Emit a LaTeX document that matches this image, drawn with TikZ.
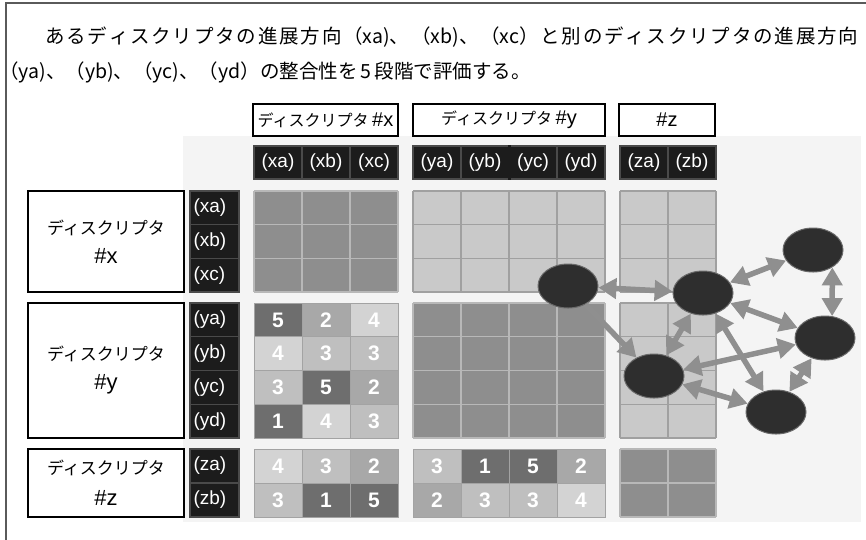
\documentclass[tikz,border=0pt]{standalone}
\usepackage{fontspec}
\setmainfont{Liberation Sans}
\newfontfamily\jp{Noto Sans CJK JP}
\usetikzlibrary{shapes.geometric,arrows.meta}
\definecolor{panel}{HTML}{F4F4F4}
\definecolor{framec}{HTML}{5A5A5A}
\definecolor{dkfill}{HTML}{8E8E8E}
\definecolor{dkline}{HTML}{B8B8B8}
\definecolor{ltfill}{HTML}{C9C9C9}
\definecolor{ltline}{HTML}{A0A0A0}
\definecolor{v1}{HTML}{6E6E6E}
\definecolor{v5}{HTML}{6E6E6E}
\definecolor{v2}{HTML}{A8A8A8}
\definecolor{v3}{HTML}{BFBFBF}
\definecolor{v4}{HTML}{D3D3D3}
\definecolor{valline}{HTML}{A3A3A3}
\definecolor{hdrfill}{HTML}{1C1C1C}
\definecolor{hdrline}{HTML}{4A4A4A}
\definecolor{nodefill}{HTML}{2E2E2E}
\definecolor{nodeline}{HTML}{6A6A6A}
\definecolor{arrowc}{HTML}{8F8F8F}
\newcommand\latn[2]{{\normalfont\fontsize{#1}{#1}\selectfont #2}}
\newcommand\cellgrid[7]{%
  \fill[#6] (#1,#2) rectangle ({#1+48*#3},{#2+#4*#5});
  \foreach \i in {0,...,#3}{\draw[#7,line width=1.3pt] ({#1+48*\i},#2) -- ({#1+48*\i},{#2+#4*#5});}
  \foreach \j in {0,...,#4}{\draw[#7,line width=1.3pt] (#1,{#2+#5*\j}) -- ({#1+48*#3},{#2+#5*\j});}
}
\newcommand\valrow[5]{% x0, ycenter, rowh, list, name prefix
  \foreach \v [count=\i from 0] in {#4} {\node[valc=\v, minimum height=#3] (#5-\i) at ({#1+24+48*\i},#2) {\v};}
}
\tikzset{
  valc/.style={fill=v#1, draw=valline, line width=1pt, minimum width=48pt, text=white,
    font=\bfseries\fontsize{21}{21}\selectfont, inner sep=0pt},
  hdr/.style={fill=hdrfill, draw=hdrline, line width=1.2pt, text=white,
    font=\fontsize{19}{19}\selectfont, inner sep=0pt},
  rowlab/.style={hdr, text width=42pt, inner xsep=3.5pt, align=left},
  hbox/.style={fill=white, draw=black, line width=1.2pt, inner sep=0pt,
    font=\jp\fontsize{16}{20}\selectfont},
  lbox/.style={fill=white, draw=black, line width=1.2pt, inner sep=0pt, minimum width=156pt,
    align=center, font=\jp\fontsize{17}{29}\selectfont},
  gnode/.style={ellipse, fill=nodefill, draw=nodeline, line width=1pt, minimum width=60pt,
    minimum height=44pt, inner sep=0pt},
  dbl/.style={{Triangle[length=18pt,width=20pt]}-{Triangle[length=18pt,width=20pt]},
    line width=5.5pt, draw=arrowc},
  sgl/.style={-{Triangle[length=18pt,width=20pt]}, line width=5.5pt, draw=arrowc},
}
\begin{document}
\begin{tikzpicture}[x=1pt,y=-1pt]
\useasboundingbox (0,0) rectangle (866,539);
\fill[white] (0,0) rectangle (866,539);
\draw[framec, line width=2pt] (6,545) -- (6,3) -- (870,3);
\fill[panel] (183,136) rectangle (861,522);

% intro text
\node[anchor=north west, text width=859pt, align=justify, inner sep=0pt,
  font=\jp\fontsize{19.5}{35}\selectfont] (intro) at (-1,27)
  {\XeTeXlinebreaklocale "ja"\XeTeXlinebreakskip=0pt plus 3pt\relax
   \hspace*{46pt}あるディスクリプタの進展方向（xa)、（xb)、（xc）と別のディスクリプタの進展方向\linebreak
   （ya)、（yb)、（yc)、（yd）の整合性を\,5\,段階で評価する。};

% header boxes
\node[hbox, minimum width=145pt, minimum height=32pt] (hx) at (325.5,120) {ディスクリプタ \latn{20}{\#x}};
\node[hbox, minimum width=192pt, minimum height=32pt] (hy) at (509,120) {ディスクリプタ \latn{20}{\#y}};
\node[hbox, minimum width=96pt, minimum height=32pt] (hz) at (667,120) {\latn{20}{\#z}};

% column headers
\foreach \t [count=\i from 0] in {xa,xb,xc}
  {\node[hdr, minimum width=48pt, minimum height=33pt] (c\t) at ({278+48*\i},162.5) {(\t)};}
\foreach \t [count=\i from 0] in {ya,yb,yc,yd}
  {\node[hdr, minimum width=48pt, minimum height=33pt] (c\t) at ({437+48*\i},162.5) {(\t)};}
\foreach \t [count=\i from 0] in {za,zb}
  {\node[hdr, minimum width=48pt, minimum height=33pt] (c\t) at ({644+48*\i},162.5) {(\t)};}
\draw[hdrfill, line width=2.4pt] (cyb.north east) -- (cyb.south east);

% row labels
\foreach \t [count=\i from 0] in {xa,xb,xc}
  {\node[rowlab, minimum height=33.67pt] (r\t) at (214.5,{207.83+33.67*\i}) {(\t)};}
\foreach \t [count=\i from 0] in {ya,yb,yc,yd}
  {\node[rowlab, minimum height=33.75pt] (r\t) at (214.5,{319.875+33.75*\i}) {(\t)};}
\foreach \t [count=\i from 0] in {za,zb}
  {\node[rowlab, minimum height=34pt] (r\t) at (214.5,{466+34*\i}) {(\t)};}

% left boxes
\node[lbox, minimum height=101pt] (lx) at (106,241.5) {ディスクリプタ\\\latn{22}{\#x}};
\node[lbox, minimum height=135pt] (ly) at (106,370.5) {ディスクリプタ\\\latn{22}{\#y}};
\node[lbox, minimum height=68pt, font=\jp\fontsize{17}{31}\selectfont] (lz) at (106,483) {ディスクリプタ\\\latn{22}{\#z}};

% blocks, rows x
\cellgrid{254}{191}{3}{3}{33.67}{dkfill}{dkline}
\cellgrid{413}{191}{4}{3}{33.67}{ltfill}{ltline}
\cellgrid{620}{191}{2}{3}{33.67}{ltfill}{ltline}
% rows y
\valrow{254}{319.875}{33.75pt}{5,2,4}{yxa}
\valrow{254}{353.625}{33.75pt}{4,3,3}{yxb}
\valrow{254}{387.375}{33.75pt}{3,5,2}{yxc}
\valrow{254}{421.125}{33.75pt}{1,4,3}{yxd}
\cellgrid{413}{303}{4}{4}{33.75}{dkfill}{dkline}
\cellgrid{620}{303}{2}{4}{33.75}{ltfill}{ltline}
% rows z
\valrow{254}{466}{34pt}{4,3,2}{zxa}
\valrow{254}{500}{34pt}{3,1,5}{zxb}
\valrow{413}{466}{34pt}{3,1,5,2}{zya}
\valrow{413}{500}{34pt}{2,3,3,4}{zyb}
\cellgrid{620}{449}{2}{2}{34}{dkfill}{dkline}

% graph
\node[gnode] (n1) at (568,286) {};
\node[gnode] (n2) at (703,293) {};
\node[gnode] (n3) at (813,250) {};
\node[gnode] (n4) at (825,338) {};
\node[gnode] (n5) at (654,376) {};
\node[gnode] (n6) at (776,412) {};

\draw[dbl] (n1) -- (n2);
\draw[dbl] (n2) -- (n3);
\draw[dbl] (n3.-42) -- (n4.72);
\draw[dbl] (n2) -- (n4);
\draw[dbl] (n5) -- (n4);
\draw[dbl] (n6) -- (n4);
\draw[dbl] (n5) -- (n6);
\draw[dbl] (n5) -- (n2);
\draw[dbl] (n2) -- (n6);
\draw[sgl] (n1) -- (n5);
\end{tikzpicture}
\end{document}
